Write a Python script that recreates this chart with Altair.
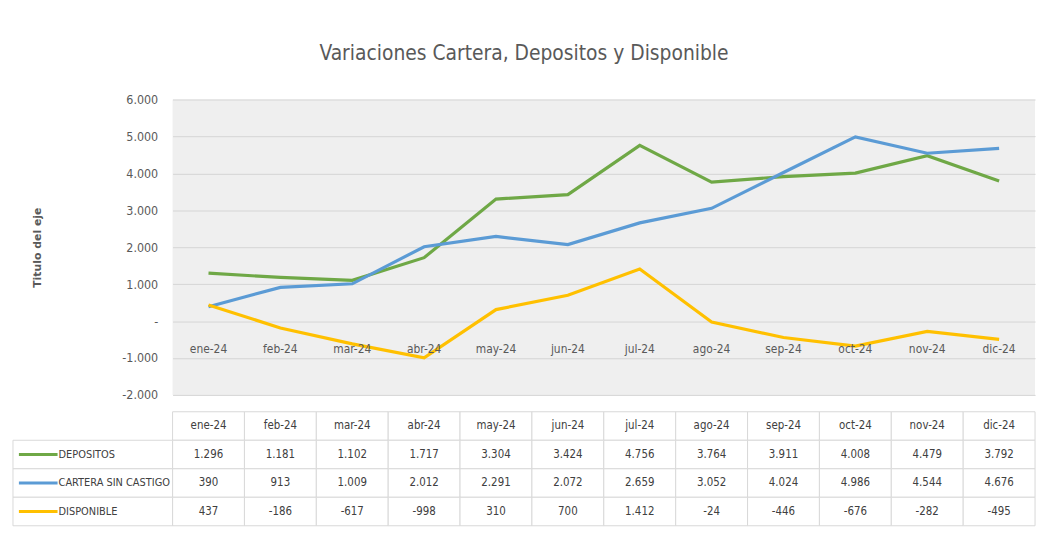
import altair as alt
import pandas as pd

months = ["ene-24", "feb-24", "mar-24", "abr-24", "may-24", "jun-24",
          "jul-24", "ago-24", "sep-24", "oct-24", "nov-24", "dic-24"]
series_names = ["DEPOSITOS", "CARTERA SIN CASTIGO", "DISPONIBLE"]
depositos = [1296, 1181, 1102, 1717, 3304, 3424, 4756, 3764, 3911, 4008, 4479, 3792]
cartera = [390, 913, 1009, 2012, 2291, 2072, 2659, 3052, 4024, 4986, 4544, 4676]
disponible = [437, -186, -617, -998, 310, 700, 1412, -24, -446, -676, -282, -495]
colors = ["#6FA846", "#5B9BD5", "#FFC000"]
y_ticks = [-2000, -1000, 0, 1000, 2000, 3000, 4000, 5000, 6000]

rows = []
for name, vals in zip(series_names, [depositos, cartera, disponible]):
    for m, v in zip(months, vals):
        rows.append({"month": m, "series": name, "value": v})
df = pd.DataFrame(rows)

FONT = "DejaVu Sans Condensed, Liberation Sans Narrow, DejaVu Sans"
W = 870
fmt = "(datum.value < 0 ? '-' : '') + replace(format(abs(datum.value), ','), ',', '.')"

color_scale = alt.Scale(domain=series_names, range=colors)
x_pt = alt.X("month:N", sort=months, axis=None, scale=alt.Scale(padding=0.5))
y_q = alt.Y("value:Q", scale=alt.Scale(domain=[-2000, 6000], nice=False),
            axis=alt.Axis(values=y_ticks, tickCount=len(y_ticks) + 2,
                          title="Titulo del eje",
                          labelExpr="datum.value == 0 ? '-' : " + fmt,
                          labelOverlap=False,
                          domain=False, ticks=False, labelPadding=15,
                          labelFont=FONT, labelFontSize=12.5, labelColor="#595959",
                          gridColor="#d4d4d4", gridWidth=1,
                          titleFont="DejaVu Sans", titleFontSize=11,
                          titleFontWeight="bold", titleColor="#595959",
                          titlePadding=80))

lines = alt.Chart(df).mark_line(strokeWidth=3.2).encode(
    x=x_pt, y=y_q,
    color=alt.Color("series:N", scale=color_scale, legend=None),
)

month_df = pd.DataFrame({"month": months})
month_labels = alt.Chart(month_df).mark_text(
    font=FONT, fontSize=12, color="#595959", dy=28
).encode(x=x_pt, y=alt.datum(0), text="month:N")

top = alt.layer(lines, month_labels).properties(width=W, height=298)

# ---- data table ----
row_order = ["header"] + series_names
hdr = pd.DataFrame({"month": months, "series": "header", "label": months})
vals = df.copy()
tbl = pd.concat([hdr, vals], ignore_index=True)

x_band = alt.X("month:N", sort=months, axis=None,
               scale=alt.Scale(paddingInner=0, paddingOuter=0))
y_band = alt.Y("series:N", sort=row_order, axis=None,
               scale=alt.Scale(domain=row_order, paddingInner=0, paddingOuter=0))

cells = alt.Chart(tbl).mark_rect(fill="white", stroke="#d9d9d9", strokeWidth=1).encode(
    x=x_band, y=y_band)

cell_text = alt.Chart(tbl).transform_calculate(
    txt="datum.series == 'header' ? datum.label : " + fmt
).mark_text(font=FONT, fontSize=11.5, color="#404040").encode(
    x=x_band, y=y_band, text="txt:N")

lab_df = pd.DataFrame({"series": series_names})
lab_cells = alt.Chart(lab_df).mark_rect(fill="white", stroke="#d9d9d9", strokeWidth=1).encode(
    x=alt.value(-161), x2=alt.value(0), y=y_band)
lab_text = alt.Chart(lab_df).mark_text(
    font=FONT, fontSize=11, color="#404040", align="left"
).encode(x=alt.value(-115), y=y_band, text="series:N")
swatch = alt.Chart(lab_df).mark_rule(strokeWidth=3).encode(
    x=alt.value(-155), x2=alt.value(-116), y=y_band,
    color=alt.Color("series:N", scale=color_scale, legend=None))

table = alt.layer(cells, cell_text, lab_cells, lab_text, swatch).properties(
    width=W, height=115)

chart = alt.vconcat(top, table, spacing=9).properties(
    title=alt.Title("Variaciones Cartera, Depositos y Disponible",
                    font=FONT, fontSize=21, fontWeight="normal",
                    color="#595959", anchor="middle", offset=30),
    padding={"top": 33, "left": 4, "right": 5, "bottom": 5},
).configure_view(fill="#efefef", stroke=None)

chart.save("out.html", embed_options={"renderer": "svg", "actions": False})
